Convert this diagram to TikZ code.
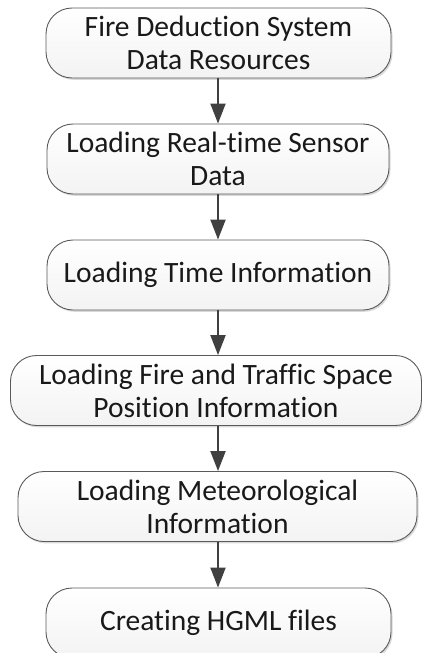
\documentclass[tikz,border=0pt]{standalone}
\usepackage{fontspec}
\setmainfont{Carlito}[Ligatures=NoCommon]
\usetikzlibrary{shadows,arrows.meta}
\definecolor{edge}{HTML}{5A5A5A}
\definecolor{arrowgray}{HTML}{404040}
\definecolor{boxfill}{HTML}{F3F3F3}
\tikzset{
  x=1pt, y=1pt,
  stepbox/.style={draw=edge, line width=0.9pt, rounded corners=26pt,
    top color=white, bottom color=boxfill,
    drop shadow={shadow xshift=1.5pt, shadow yshift=-1.8pt, fill=black, opacity=0.15},
    minimum height=70pt, inner sep=0pt, align=center,
    font=\fontsize{29.5}{33}\selectfont, text=black!90},
  flow/.style={draw=arrowgray, line width=2pt,
    -{Triangle[length=20pt,width=15pt]}, fill=arrowgray}
}
\begin{document}
\begin{tikzpicture}
\useasboundingbox (0,0) rectangle (422,-653);
\begin{scope}
\clip (0,0) rectangle (422,-653);
\node[stepbox, minimum width=345pt] (s1) at (218.5,-43)
  {Fire Deduction System\\Data Resources};
\node[stepbox, minimum width=342pt] (s2) at (218,-159)
  {Loading Real-time Sensor\\Data};
\node[stepbox, minimum width=342pt] (s3) at (218,-275)
  {Loading Time Information};
\node[stepbox, minimum width=411pt] (s4) at (216,-390.5)
  {Loading Fire and Traffic Space\\Position Information};
\node[stepbox, minimum width=399pt] (s5) at (217.5,-506.5)
  {Loading Meteorological\\Information};
\node[stepbox, minimum width=345pt] (s6) at (218.5,-623)
  {Creating HGML files};
\end{scope}
\draw[flow] (s1.south -| 218,0) -- (s2.north -| 218,0);
\draw[flow] (s2.south -| 218,0) -- (s3.north -| 218,0);
\draw[flow] (s3.south -| 218,0) -- (s4.north -| 218,0);
\draw[flow] (s4.south -| 218,0) -- (s5.north -| 218,0);
\draw[flow] (s5.south -| 218,0) -- (s6.north -| 218,0);
\end{tikzpicture}
\end{document}
